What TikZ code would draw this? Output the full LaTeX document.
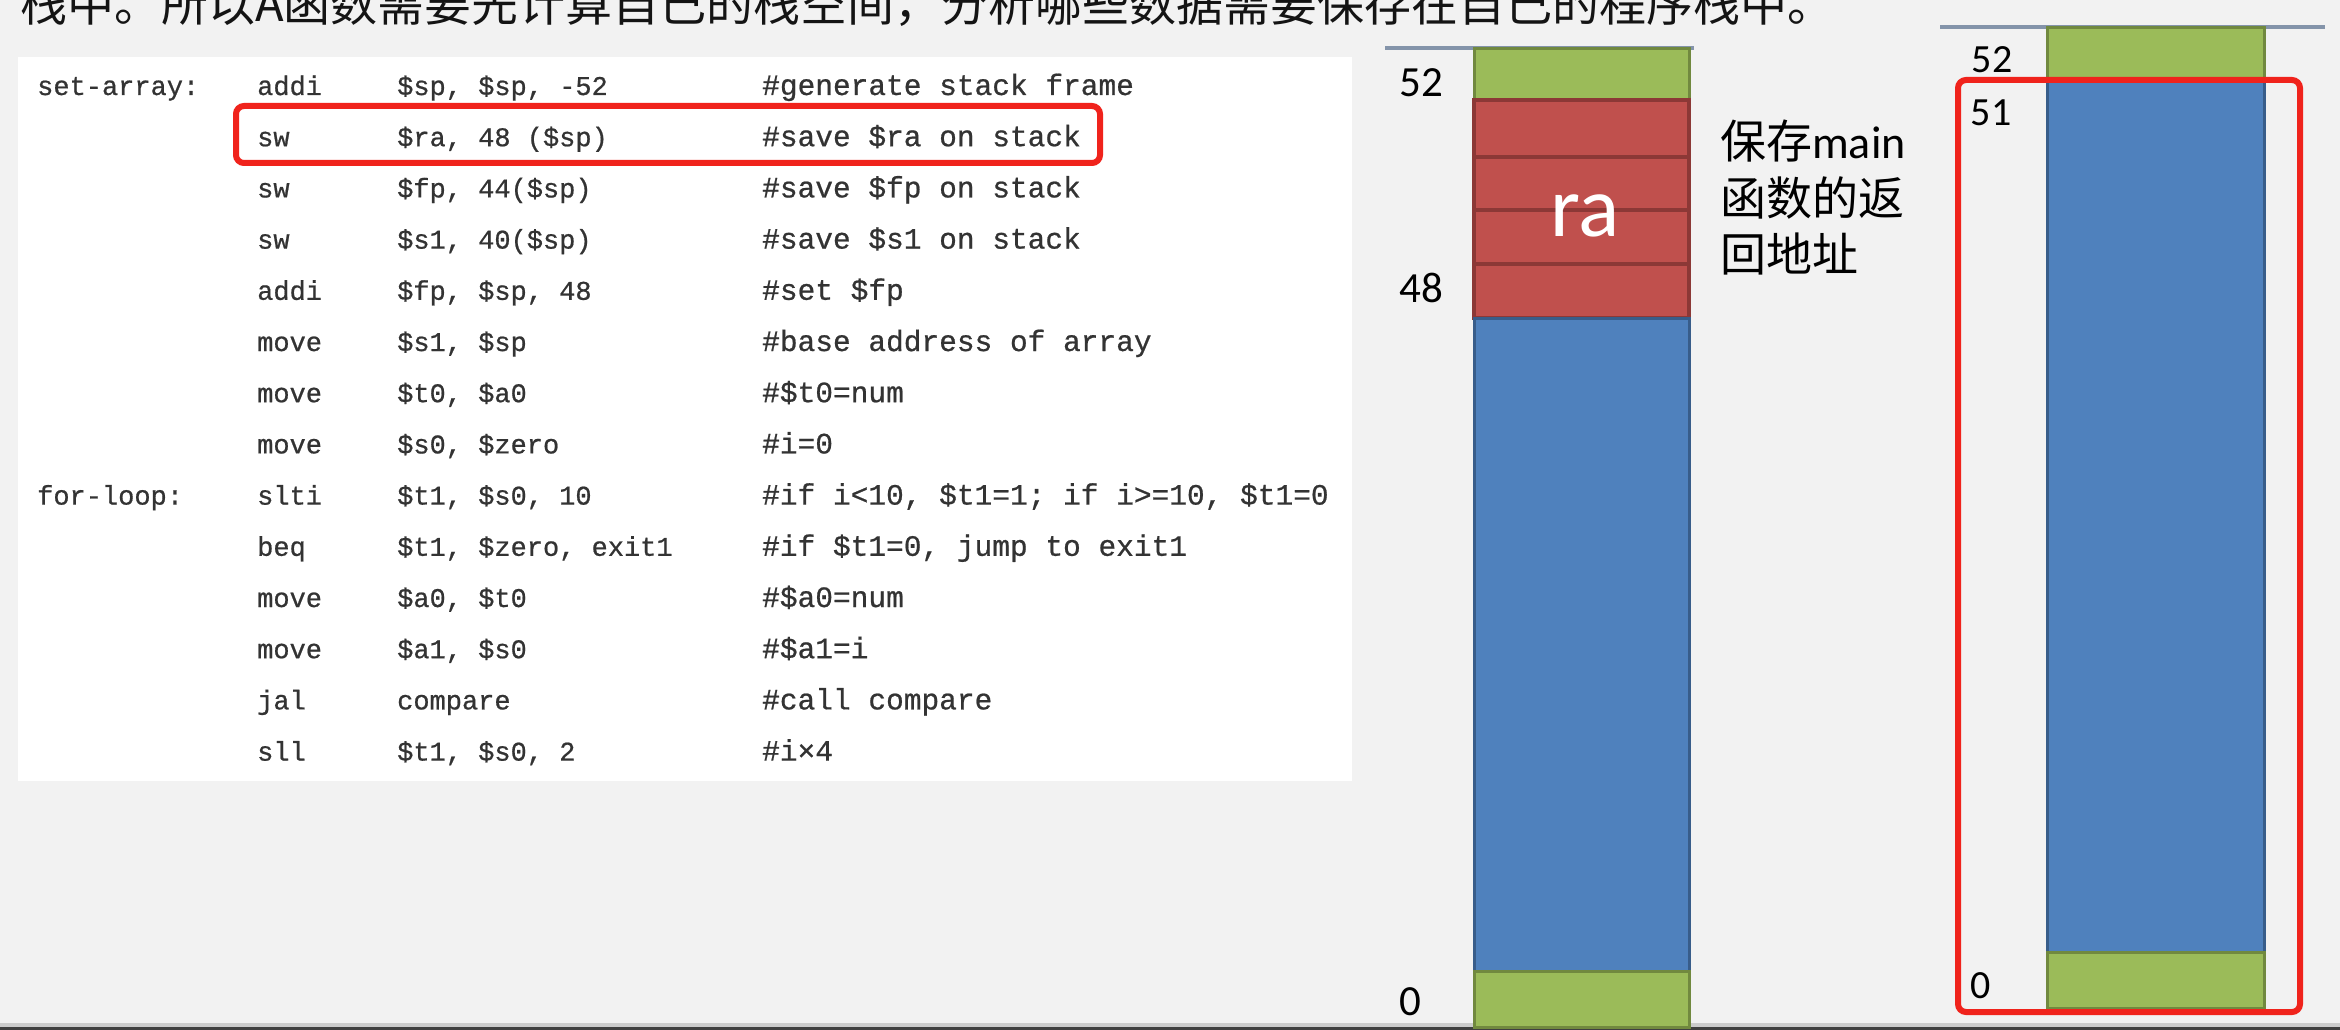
\documentclass[tikz,border=0pt]{standalone}
\usepackage{fontspec}
\setmainfont{Carlito}
\newfontfamily\cjk{Noto Sans CJK SC}
\newfontfamily\codefont[FakeBold=0.7]{Liberation Mono}
\definecolor{bgc}{HTML}{F2F2F2}
\definecolor{codegray}{HTML}{333333}
\definecolor{gfill}{HTML}{9BBB59}
\definecolor{gline}{HTML}{71893F}
\definecolor{rfill}{HTML}{C0504D}
\definecolor{rline}{HTML}{8C3836}
\definecolor{bfill}{HTML}{4F81BD}
\definecolor{bline}{HTML}{385D8A}
\definecolor{hiline}{HTML}{F0231C}
\definecolor{axisgray}{HTML}{8494AA}
\tikzset{
  code/.style={anchor=base west, inner sep=0pt, text=codegray, font=\codefont\fontsize{27}{32}\selectfont},
  codecm/.style={code, font=\codefont\fontsize{29.5}{34}\selectfont},
  numlbl/.style={inner sep=0pt, text=black, font=\fontsize{43}{50}\selectfont},
  numlbls/.style={inner sep=0pt, text=black, font=\fontsize{40}{48}\selectfont},
  cnote/.style={anchor=base west, inner sep=0pt, text=black, font=\fontsize{46}{56}\selectfont},
  seggreen/.style={fill=gfill, draw=gline, line width=3pt},
  segred/.style={fill=rfill, draw=rline, line width=4pt},
  segblue/.style={fill=bfill, draw=bline, line width=3pt},
  hibox/.style={draw=hiline, line width=6pt, rounded corners=8pt},
  axisline/.style={draw=axisgray, line width=4pt}
}
\newcommand\crow[6]{%
  \node[code] (l#1) at (37,#2) {#3};
  \node[code] (o#1) at (257,#2) {#4};
  \node[code] (a#1) at (397,#2) {#5};
  \node[codecm] (c#1) at (762,#2) {#6};
}
\begin{document}
\begin{tikzpicture}[x=1pt,y=-1pt]
\useasboundingbox (0,0) rectangle (2340,1030);
\clip (0,0) rectangle (2340,1030);
\fill[bgc] (0,0) rectangle (2340,1030);
% bottom strip
\fill[black!20] (0,1023) rectangle (2340,1027);
\fill[black!75] (0,1027) rectangle (2340,1030);
% top sentence (cut off at the top edge, as in the reference)
\node[anchor=base west, inner sep=0pt, text=black!92, font=\cjk\fontsize{47}{56}\selectfont] (topline) at (20,22) {栈中。所以A函数需要先计算自己的栈空间，分析哪些数据需要保存在自己的程序栈中。};
% code panel
\fill[white] (18,57) rectangle (1352,781);
\crow{1}{95}{set-array:}{addi}{\$sp, \$sp, -52}{\#generate stack frame}
\crow{2}{146.2}{}{sw}{\$ra, 48 (\$sp)}{\#save \$ra on stack}
\crow{3}{197.4}{}{sw}{\$fp, 44(\$sp)}{\#save \$fp on stack}
\crow{4}{248.6}{}{sw}{\$s1, 40(\$sp)}{\#save \$s1 on stack}
\crow{5}{299.8}{}{addi}{\$fp, \$sp, 48}{\#set \$fp}
\crow{6}{351}{}{move}{\$s1, \$sp}{\#base address of array}
\crow{7}{402.2}{}{move}{\$t0, \$a0}{\#\$t0=num}
\crow{8}{453.4}{}{move}{\$s0, \$zero}{\#i=0}
\crow{9}{504.6}{for-loop:}{slti}{\$t1, \$s0, 10}{\#if i<10, \$t1=1; if i>=10, \$t1=0}
\crow{10}{555.8}{}{beq}{\$t1, \$zero, exit1}{\#if \$t1=0, jump to exit1}
\crow{11}{607}{}{move}{\$a0, \$t0}{\#\$a0=num}
\crow{12}{658.2}{}{move}{\$a1, \$s0}{\#\$a1=i}
\crow{13}{709.4}{}{jal}{compare}{\#call compare}
\crow{14}{760.6}{}{sll}{\$t1, \$s0, 2}{\#i×4}
\draw[hibox] (236,106) rectangle (1100,163);
% left stack
\draw[axisline] (1385,48) -- (1694,48);
\draw[seggreen] (1474,49) rectangle (1689,100);
\draw[segred] (1474,100) rectangle (1689,157);
\draw[segred] (1474,157) rectangle (1689,210);
\draw[segred] (1474,210) rectangle (1689,264);
\draw[segred] (1474,264) rectangle (1689,318);
\draw[segblue] (1474,318) rectangle (1689,971);
\draw[seggreen] (1474,971) rectangle (1689,1027);
\node[inner sep=0pt, text=white, font=\fontsize{86}{96}\selectfont] (ra) at (1585,216) {ra};
\node[numlbl] (l52) at (1421,83) {52};
\node[numlbl] (l48) at (1421,288) {48};
\node[numlbl] (l0) at (1410,1002) {0};
\node[cnote] (n1) at (1720,158) {{\cjk 保存}main};
\node[cnote] (n2) at (1720,215) {\cjk 函数的返};
\node[cnote] (n3) at (1720,271) {\cjk 回地址};
% right stack
\draw[axisline] (1940,27) -- (2325,27);
\draw[seggreen] (2047,28) rectangle (2264,79);
\draw[segblue] (2047,79) rectangle (2264,952);
\draw[seggreen] (2047,952) rectangle (2264,1008);
\node[numlbls] (r52) at (1992,60) {52};
\node[numlbls] (r51) at (1991,113) {51};
\node[numlbls] (r0) at (1981,986) {0};
\draw[hibox] (1958,80) rectangle (2300,1012);
\end{tikzpicture}
\end{document}
